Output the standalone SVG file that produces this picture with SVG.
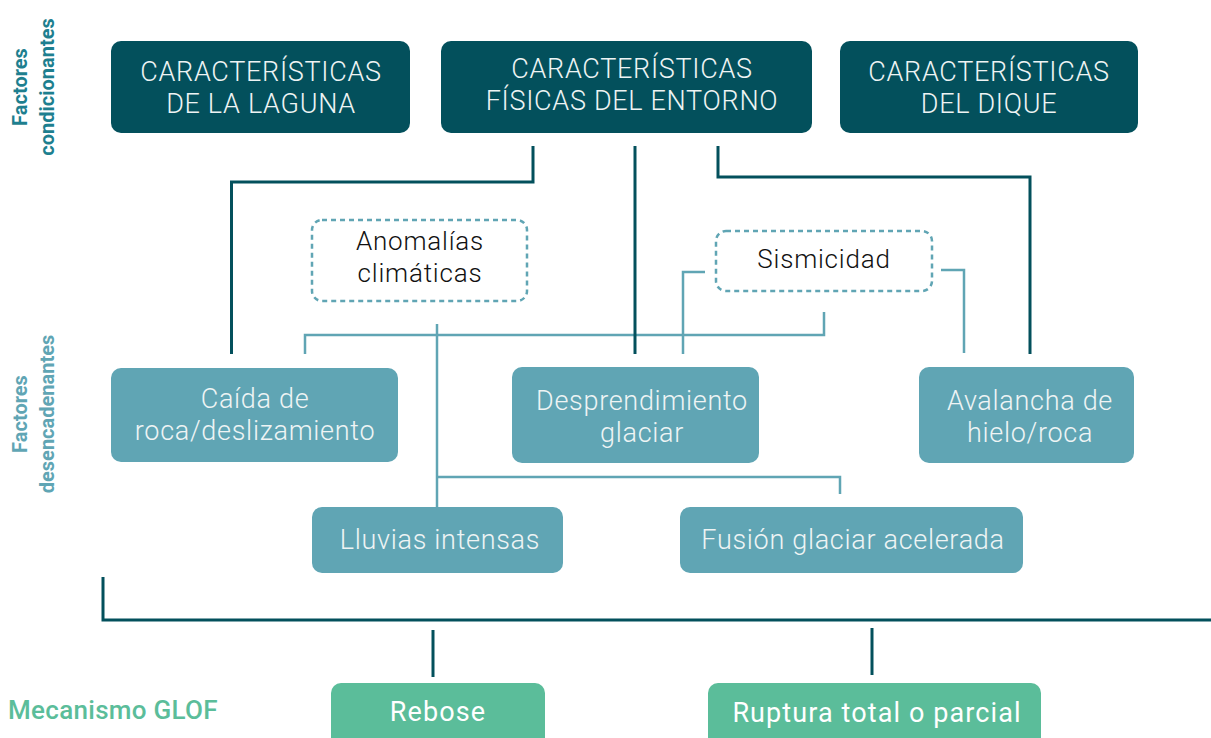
<svg xmlns="http://www.w3.org/2000/svg" width="1211" height="738" viewBox="0 0 1211 738">
<style>
.dark{fill:#03505C}
.mid{fill:#60A5B4}
.green{fill:#5BBD9A}
.dash{fill:none;stroke:#60A5B4;stroke-width:2.5;stroke-dasharray:5 4}
.tw{font-family:Roboto,"Liberation Sans",sans-serif;font-weight:300;font-size:27px;letter-spacing:0.7px;fill:#EEF4F4;text-anchor:middle}
.tb{font-family:Roboto,"Liberation Sans",sans-serif;font-weight:300;font-size:26px;letter-spacing:0.8px;fill:#111;text-anchor:middle}
.tg{font-family:Roboto,"Liberation Sans",sans-serif;font-weight:400;font-size:27px;letter-spacing:1.1px;fill:#fff;text-anchor:middle}
.lab{font-family:Roboto,"Liberation Sans",sans-serif;font-weight:700;font-size:20px;text-anchor:middle}
.cd{fill:none;stroke:#03505C;stroke-width:3}
.cl{fill:none;stroke:#60A5B4;stroke-width:2.5}
</style>
<g id="labels">
<text class="lab" fill="#1E7F8F" transform="translate(27,87) rotate(-90)"><tspan x="0" y="0">Factores</tspan><tspan x="0" y="27">condicionantes</tspan></text>
<text class="lab" fill="#60A5B4" transform="translate(27,414) rotate(-90)"><tspan x="0" y="0">Factores</tspan><tspan x="0" y="27">desencadenantes</tspan></text>
<text x="8" y="719" font-family="Roboto,'Liberation Sans',sans-serif" font-weight="500" font-size="26" letter-spacing="0.3" fill="#5BBD9A">Mecanismo GLOF</text>
</g>
<g id="connectors">
<path class="cl" d="M824,312 V335 H305 V354"/>
<path class="cl" d="M705,272 H683 V354"/>
<path class="cl" d="M941,270 H964 V353"/>
<path class="cl" d="M437,324 V508"/>
<path class="cl" d="M437,477 H840 V494"/>
<path class="cd" d="M533,146 V182 H231.5 V354"/>
<path class="cd" d="M635,146 V354"/>
<path class="cd" d="M718,146 V177 H1030 V354"/>
<path class="cd" d="M103,577 V620 H1211"/>
<path class="cd" d="M433,630 V677"/>
<path class="cd" d="M872,628 V675"/>
</g>
<g id="n-laguna">
<rect class="dark" x="111" y="41" width="299" height="92" rx="10"/>
<text class="tw" x="261" y="81">CARACTERÍSTICAS</text>
<text class="tw" x="261" y="113">DE LA LAGUNA</text>
</g>
<g id="n-entorno">
<rect class="dark" x="441" y="41" width="371" height="92" rx="10"/>
<text class="tw" x="632" y="78">CARACTERÍSTICAS</text>
<text class="tw" x="632" y="110">FÍSICAS DEL ENTORNO</text>
</g>
<g id="n-dique">
<rect class="dark" x="840" y="41" width="298" height="92" rx="10"/>
<text class="tw" x="989" y="81">CARACTERÍSTICAS</text>
<text class="tw" x="989" y="113">DEL DIQUE</text>
</g>
<g id="n-anomalias">
<rect class="dash" x="312" y="220" width="215" height="81" rx="10"/>
<text class="tb" x="420" y="250">Anomalías</text>
<text class="tb" x="420" y="282">climáticas</text>
</g>
<g id="n-sismicidad">
<rect class="dash" x="716" y="231" width="216" height="60" rx="10"/>
<text class="tb" x="824" y="268">Sismicidad</text>
</g>
<g id="n-caida">
<rect class="mid" x="111" y="368" width="287" height="94" rx="10"/>
<text class="tw" x="255" y="408">Caída de</text>
<text class="tw" x="255" y="440">roca/deslizamiento</text>
</g>
<g id="n-desprendimiento">
<rect class="mid" x="512" y="367" width="247" height="96" rx="10"/>
<text class="tw" x="642" y="410">Desprendimiento</text>
<text class="tw" x="642" y="442">glaciar</text>
</g>
<g id="n-avalancha">
<rect class="mid" x="919" y="367" width="215" height="96" rx="10"/>
<text class="tw" x="1030" y="410">Avalancha de</text>
<text class="tw" x="1030" y="442">hielo/roca</text>
</g>
<g id="n-lluvias">
<rect class="mid" x="312" y="507" width="251" height="66" rx="10"/>
<text class="tw" x="440" y="549">Lluvias intensas</text>
</g>
<g id="n-fusion">
<rect class="mid" x="680" y="507" width="343" height="66" rx="10"/>
<text class="tw" x="853" y="549">Fusión glaciar acelerada</text>
</g>
<g id="n-rebose">
<rect class="green" x="331" y="683" width="214" height="70" rx="10"/>
<text class="tg" x="438" y="721">Rebose</text>
</g>
<g id="n-ruptura">
<rect class="green" x="708" y="683" width="333" height="70" rx="10"/>
<text class="tg" x="877" y="722">Ruptura total o parcial</text>
</g>
</svg>
